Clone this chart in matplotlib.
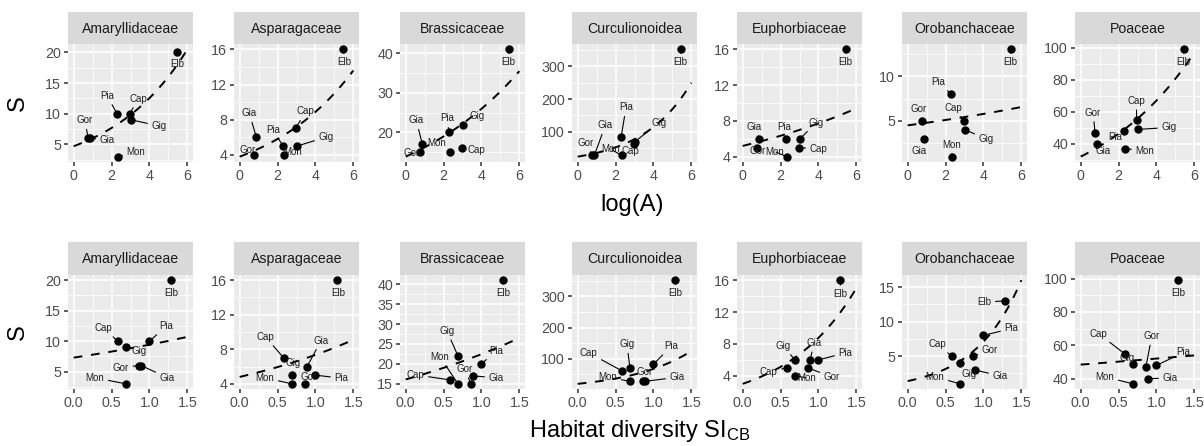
import numpy as np
import matplotlib
matplotlib.use('Agg')
import matplotlib.pyplot as plt
from matplotlib.ticker import FixedLocator, MultipleLocator, FormatStrFormatter

plt.rcParams['font.family'] = ['Liberation Sans', 'DejaVu Sans']
plt.rcParams['mathtext.fontset'] = 'custom'
plt.rcParams['mathtext.rm'] = 'Liberation Sans'
plt.rcParams['mathtext.it'] = 'Liberation Sans:italic'

# Data ---------------------------------------------------------------
families = ['Amaryllidaceae', 'Asparagaceae', 'Brassicaceae', 'Curculionoidea',
            'Euphorbiaceae', 'Orobanchaceae', 'Poaceae']
sites = ['Elb', 'Cap', 'Pia', 'Gig', 'Gor', 'Gia', 'Mon']

log_area = [5.43, 2.95, 2.29, 3.03, 0.76, 0.88, 2.33]
habitat_si = [1.29, 0.58, 1.00, 0.69, 0.86, 0.89, 0.69]

# species richness S per site (same site order)
s_amaryllidaceae = [20, 10, 10, 9, 6, 6, 3]
s_asparagaceae = [16, 7, 5, 5, 4, 6, 4]
s_brassicaceae = [41, 16, 20, 22, 15, 17, 15]
s_curculionoidea = [352, 62, 83, 70, 30, 28, 28]
s_euphorbiaceae = [16, 5, 6, 6, 5, 6, 4]
s_orobanchaceae = [13, 5, 8, 4, 5, 3, 1]
s_poaceae = [99, 55, 48, 49, 47, 40, 37]

richness = [s_amaryllidaceae, s_asparagaceae, s_brassicaceae, s_curculionoidea,
            s_euphorbiaceae, s_orobanchaceae, s_poaceae]

# fitted exponential curves, value at start and end of the x range
fit_area_start = [4.7, 3.8, 13.9, 24, 5.2, 4.5, 32]
fit_area_end = [20.5, 13.6, 35.5, 250, 9.4, 6.55, 97]
fit_si_start = [7.3, 4.8, 16.1, 20, 3.0, 1.4, 48.5]
fit_si_end = [10.7, 9.1, 26.5, 125, 15, 16, 54]

# y axis breaks
ybreaks_area = [[5, 10, 15, 20], [4, 8, 12, 16], [20, 30, 40], [100, 200, 300],
                [4, 8, 12, 16], [5, 10], [40, 60, 80, 100]]
ybreaks_si = [[5, 10, 15, 20], [4, 8, 12, 16], [15, 20, 25, 30, 35, 40], [100, 200, 300],
              [4, 8, 12, 16], [5, 10, 15], [40, 60, 80, 100]]

# label nudges (pixels, dx, dy) - site order as above
nudge_area = [
    [(1, -12), (9, 15), (-10, 18), (28, -6), (-3, 18), (17, -2), (18, 5)],
    [(2, -13), (10, 17), (-10, 16), (29, 9), (-6, 5), (-7, 24), (9, 3)],
    [(0, -13), (15, -2), (-2, 14), (14, 9), (-8, -1), (-6, 24), (-13, 9)],
    [(0, -13), (-3, -7), (5, 30), (24, 19), (-6, 12), (11, 30), (-11, 6)],
    [(0, -13), (20, -1), (-2, 12), (16, 16), (1, -3), (-5, 12), (-12, 5)],
    [(0, -13), (-10, 13), (-13, 12), (21, -9), (-3, 12), (-5, -12), (0, 12)],
    [(0, -13), (0, 19), (-9, -6), (31, 2), (-2, 20), (6, -7), (20, -2)],
]
nudge_si = [
    [(0, -13), (-14, 13), (17, 15), (13, -4), (-18, -2), (26, -12), (-31, 6)],
    [(1, -13), (-18, 21), (26, -3), (1, 12), (4, 7), (14, 26), (-27, 6)],
    [(0, -13), (-34, 5), (15, 13), (-11, 25), (-6, 15), (23, -2), (-18, 27)],
    [(0, -13), (-33, 18), (18, 18), (-3, 24), (2, 9), (32, 4), (-22, 4)],
    [(0, -14), (-18, -4), (27, 7), (-12, 14), (24, -9), (4, 17), (12, -2)],
    [(-21, -1), (-14, 12), (28, 7), (9, -11), (17, 6), (25, -6), (-25, 7)],
    [(0, -13), (-26, 20), (27, 13), (-6, 6), (6, 31), (22, 1), (-28, 7)],
]

# Layout (pixels) ----------------------------------------------------
W, H = 1204, 446
lefts = [68, 234, 400, 572, 737, 902, 1075]
pw = 125

fig = plt.figure(figsize=(W / 100, H / 100), dpi=100)


def pix_axes(left, top, width, height):
    return fig.add_axes([left / W, 1 - (top + height) / H, width / W, height / H])


def draw_row(xvals, fit_start, fit_end, xmax, xstep, ybreaks, nudges, strip_top, panel_top, panel_bot):
    for i, fam in enumerate(families):
        # strip
        sax = pix_axes(lefts[i], strip_top, pw, panel_top - strip_top)
        sax.set_facecolor('#D9D9D9')
        sax.set_xticks([])
        sax.set_yticks([])
        for sp in sax.spines.values():
            sp.set_visible(False)
        sax.text(0.5, 0.48, fam, ha='center', va='center', fontsize=10.2, color='#1A1A1A')

        ax = pix_axes(lefts[i], panel_top, pw, panel_bot - panel_top)
        ax.set_facecolor('#EBEBEB')
        for sp in ax.spines.values():
            sp.set_visible(False)

        yv = richness[i]
        xf = np.linspace(0, xmax, 120)
        yf = fit_start[i] * (fit_end[i] / fit_start[i]) ** (xf / xmax)

        ax.plot(xf, yf, color='black', lw=1.4, linestyle=(0, (4.5, 4.5)), zorder=3)
        ax.plot(xvals, yv, 'o', color='black', ms=5, zorder=4)

        for k, site in enumerate(sites):
            dx, dy = nudges[i][k]
            props = None
            if (dx ** 2 + dy ** 2) ** 0.5 > 11:
                props = dict(arrowstyle='-', color='black', lw=0.8, shrinkA=1, shrinkB=2)
            ax.annotate(site, xy=(xvals[k], yv[k]), xytext=(dx, dy), textcoords='offset pixels',
                        ha='center', va='center', fontsize=7, color='#222222',
                        arrowprops=props, zorder=5)

        # limits like ggplot (5% expansion)
        lo = min(min(yv), fit_start[i], fit_end[i])
        hi = max(max(yv), fit_start[i], fit_end[i])
        pad = (hi - lo) * 0.05
        ax.set_ylim(lo - pad, hi + pad)
        ax.set_xlim(-0.05 * xmax, 1.05 * xmax)

        ax.xaxis.set_major_locator(MultipleLocator(xstep))
        ax.xaxis.set_minor_locator(MultipleLocator(xstep / 2))
        ax.yaxis.set_major_locator(FixedLocator(ybreaks[i]))
        step = ybreaks[i][1] - ybreaks[i][0]
        ax.yaxis.set_minor_locator(MultipleLocator(step / 2))
        if xstep < 1:
            ax.xaxis.set_major_formatter(FormatStrFormatter('%.1f'))

        ax.grid(which='major', color='white', lw=1.1)
        ax.grid(which='minor', color='white', lw=0.55)
        ax.set_axisbelow(True)
        ax.tick_params(which='major', direction='out', length=3, width=1.1, color='#333333',
                       labelcolor='#4D4D4D', labelsize=10.3, pad=2)
        ax.tick_params(which='minor', length=0)


draw_row(log_area, fit_area_start, fit_area_end, 6, 2, ybreaks_area, nudge_area, 12, 44, 162)
draw_row(habitat_si, fit_si_start, fit_si_end, 1.5, 0.5, ybreaks_si, nudge_si, 242, 275, 389)

fig.text(18 / W, 1 - 103 / H, 'S', rotation=90, ha='center', va='center', fontsize=17)
fig.text(18 / W, 1 - 332 / H, 'S', rotation=90, ha='center', va='center', fontsize=17)
fig.text(632 / W, 1 - 205 / H, 'log(A)', ha='center', va='center', fontsize=17)
fig.text(640 / W, 1 - 431 / H, r'Habitat diversity SI$_{\mathrm{CB}}$', ha='center', va='center', fontsize=17)

fig.savefig('out.png', dpi=100)
